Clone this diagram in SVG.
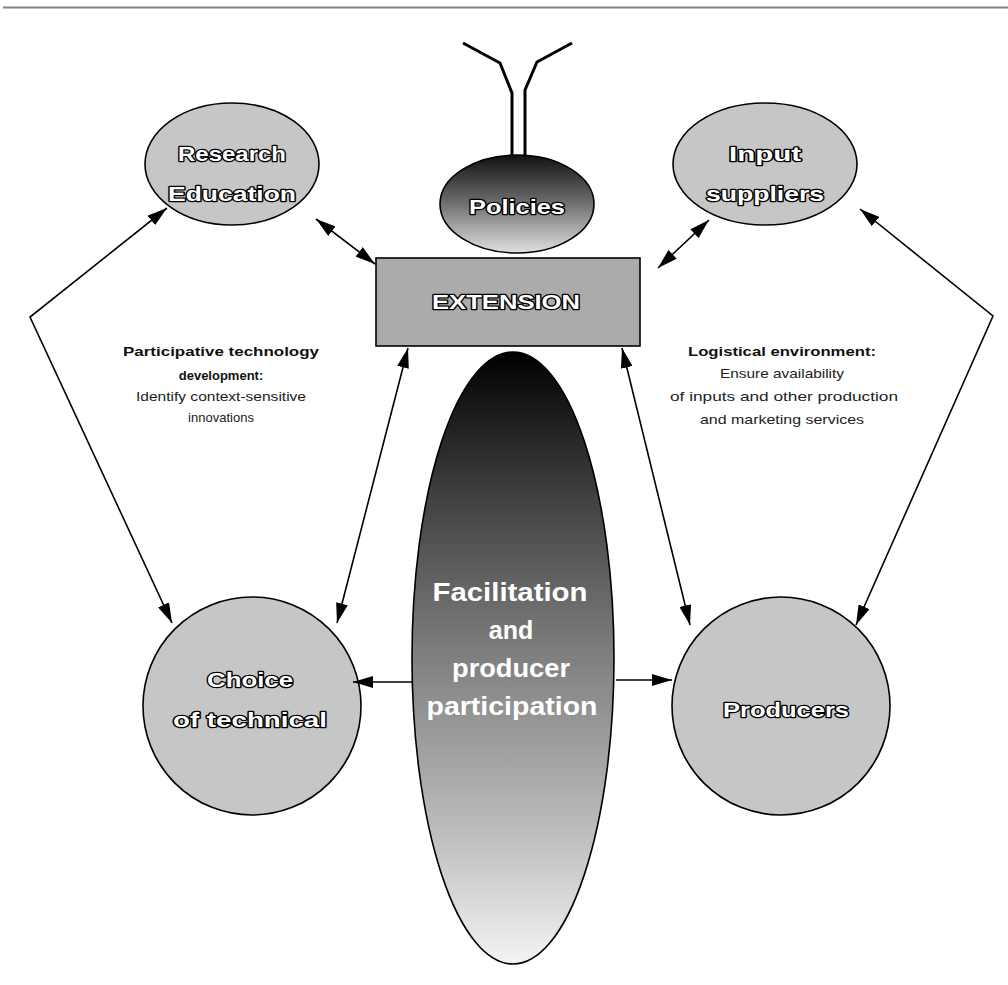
<svg xmlns="http://www.w3.org/2000/svg" width="1008" height="985" viewBox="0 0 1008 985">
<defs>
<marker id="ah" viewBox="0 0 20 12" refX="20" refY="6" markerWidth="20" markerHeight="12" markerUnits="userSpaceOnUse" orient="auto-start-reverse">
<path d="M0,0 L20,6 L0,12 z" fill="#000"/>
</marker>
<linearGradient id="gPol" x1="0" y1="0" x2="0" y2="1">
<stop offset="0" stop-color="#111"/>
<stop offset="0.45" stop-color="#666"/>
<stop offset="1" stop-color="#e0e0e0"/>
</linearGradient>
<linearGradient id="gFac" x1="0" y1="0" x2="0" y2="1">
<stop offset="0" stop-color="#000"/>
<stop offset="0.25" stop-color="#444"/>
<stop offset="0.5" stop-color="#808080"/>
<stop offset="0.8" stop-color="#c0c0c0"/>
<stop offset="1" stop-color="#f4f4f4"/>
</linearGradient>
</defs>
<style>
.node{fill:#c6c6c6;stroke:#000;stroke-width:1.6}
.lbl{font-family:"Liberation Sans",Arial,sans-serif;font-weight:bold;font-size:21px;fill:#fff;stroke:#000;stroke-width:2.5;paint-order:stroke;text-anchor:middle;stroke-linejoin:round}
.fac{font-family:"Liberation Sans",Arial,sans-serif;font-weight:bold;font-size:25px;fill:#fff;text-anchor:middle}
.note{font-family:"Liberation Sans",Arial,sans-serif;font-size:13px;fill:#222;text-anchor:middle}
.noteb{font-weight:bold;fill:#111}
.con{fill:none;stroke:#000;stroke-width:1.6}
</style>
<rect width="1008" height="985" fill="#fff"/>
<line x1="3" y1="7.5" x2="1008" y2="7.5" stroke="#808080" stroke-width="2"/>

<g id="policies">
<path d="M463,43 L500,63 L512,93 L512,156" fill="none" stroke="#000" stroke-width="3"/>
<path d="M572,43 L537,62 L525,90 L525,156" fill="none" stroke="#000" stroke-width="3"/>
<ellipse cx="517" cy="204" rx="77" ry="49" fill="url(#gPol)" stroke="#000" stroke-width="1.6"/>
<text class="lbl" x="517" y="214" textLength="96" lengthAdjust="spacingAndGlyphs">Policies</text>
</g>

<g id="research">
<ellipse class="node" cx="232" cy="164" rx="87" ry="61"/>
<text class="lbl" x="232" y="161" textLength="108" lengthAdjust="spacingAndGlyphs">Research</text>
<text class="lbl" x="232" y="201" textLength="128" lengthAdjust="spacingAndGlyphs">Education</text>
</g>

<g id="input">
<ellipse class="node" cx="765" cy="164" rx="92" ry="61"/>
<text class="lbl" x="765" y="161" textLength="72" lengthAdjust="spacingAndGlyphs">Input</text>
<text class="lbl" x="765" y="201" textLength="118" lengthAdjust="spacingAndGlyphs">suppliers</text>
</g>

<g id="extension">
<rect x="376" y="258" width="264" height="88" fill="#ababab" stroke="#000" stroke-width="1.6"/>
<text class="lbl" x="506" y="309" textLength="148" lengthAdjust="spacingAndGlyphs">EXTENSION</text>
</g>

<g id="facilitation">
<ellipse cx="513" cy="658" rx="101" ry="306" fill="url(#gFac)" stroke="#000" stroke-width="1.6"/>
<text class="fac" x="510" y="601" textLength="155" lengthAdjust="spacingAndGlyphs">Facilitation</text>
<text class="fac" x="511" y="639">and</text>
<text class="fac" x="511" y="677" textLength="118" lengthAdjust="spacingAndGlyphs">producer</text>
<text class="fac" x="512" y="715" textLength="171" lengthAdjust="spacingAndGlyphs">participation</text>
</g>

<g id="choice">
<circle class="node" cx="252" cy="706" r="109"/>
<text class="lbl" x="250" y="687" textLength="86" lengthAdjust="spacingAndGlyphs">Choice</text>
<text class="lbl" x="250" y="727" textLength="154" lengthAdjust="spacingAndGlyphs">of technical</text>
</g>

<g id="producers">
<circle class="node" cx="781" cy="706" r="109"/>
<text class="lbl" x="786" y="717" textLength="126" lengthAdjust="spacingAndGlyphs">Producers</text>
</g>

<g id="notes">
<text class="note noteb" x="221" y="356" textLength="196" lengthAdjust="spacingAndGlyphs">Participative technology</text>
<text class="note noteb" x="221" y="380">development:</text>
<text class="note" x="221" y="401" textLength="170" lengthAdjust="spacingAndGlyphs">Identify context-sensitive</text>
<text class="note" x="221" y="422">innovations</text>
<text class="note noteb" x="782" y="356" textLength="188" lengthAdjust="spacingAndGlyphs">Logistical environment:</text>
<text class="note" x="782" y="378" textLength="124" lengthAdjust="spacingAndGlyphs">Ensure availability</text>
<text class="note" x="784" y="401" textLength="228" lengthAdjust="spacingAndGlyphs">of inputs and other production</text>
<text class="note" x="782" y="424" textLength="164" lengthAdjust="spacingAndGlyphs">and marketing services</text>
</g>

<g id="connectors">
<polyline class="con" points="167,208 30,317 172,623" marker-start="url(#ah)" marker-end="url(#ah)"/>
<polyline class="con" points="860,209 993,316 856,625" marker-start="url(#ah)" marker-end="url(#ah)"/>
<line class="con" x1="316" y1="219" x2="375" y2="264" marker-start="url(#ah)" marker-end="url(#ah)"/>
<line class="con" x1="709" y1="220" x2="658" y2="268" marker-start="url(#ah)" marker-end="url(#ah)"/>
<line class="con" x1="408" y1="348" x2="337" y2="623" marker-start="url(#ah)" marker-end="url(#ah)"/>
<line class="con" x1="622" y1="348" x2="690" y2="625" marker-start="url(#ah)" marker-end="url(#ah)"/>
<line class="con" x1="412" y1="682" x2="353" y2="682" marker-end="url(#ah)"/>
<line class="con" x1="616" y1="680" x2="672" y2="680" marker-end="url(#ah)"/>
</g>
</svg>
